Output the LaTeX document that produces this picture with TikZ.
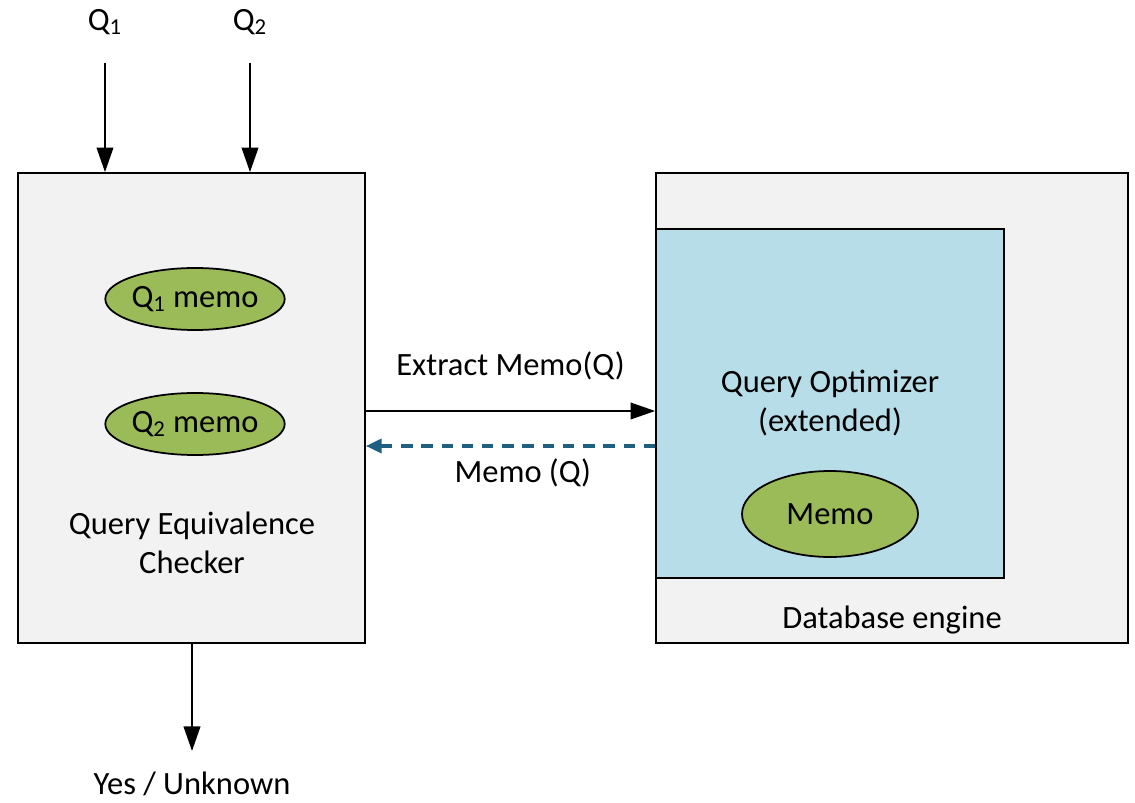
\documentclass[tikz,border=0pt]{standalone}
\usepackage{fontspec}
\setmainfont{Carlito}
\usepackage{xcolor}
\usetikzlibrary{arrows,shapes,arrows.meta}
\definecolor{boxgray}{HTML}{F2F2F2}
\definecolor{optblue}{HTML}{B7DDE8}
\definecolor{memogreen}{HTML}{9BBB59}
\definecolor{backblue}{RGB}{31,96,128}
\tikzstyle{block}=[rectangle,draw=black,fill=boxgray,line width=1pt]
\tikzstyle{memo}=[ellipse,draw=black,fill=memogreen,line width=1pt,inner sep=0pt]
\tikzstyle{lbl}=[font=\fontsize{18.5}{21.5}\selectfont]
\tikzstyle{flow}=[-{Triangle[length=14pt,width=9.5pt]},line width=1pt]

\begin{document}
\begin{tikzpicture}[x=0.02cm,y=-0.02cm]
        \useasboundingbox (0,0) rectangle (1135,803);
        \node at (191.5,408) [block,minimum width=347*0.02cm,minimum height=470*0.02cm] (qec) {};
        \node at (892,408) [block,minimum width=472*0.02cm,minimum height=470*0.02cm] (dbe) {};
        \node at (830,403.5) [rectangle,draw=black,fill=optblue,line width=1pt,minimum width=348*0.02cm,minimum height=349*0.02cm] (qo) {};

        \node at (195,299) [memo,lbl,minimum width=173*0.02cm,minimum height=62*0.02cm] (m1) {Q\textsubscript{1} memo};
        \node at (195,424) [memo,lbl,minimum width=173*0.02cm,minimum height=62*0.02cm] (m2) {Q\textsubscript{2} memo};
        \node at (830,514) [memo,lbl,minimum width=176*0.02cm,minimum height=86*0.02cm] (m) {Memo};

        \node at (192,543) [lbl,align=center] (qectxt) {Query Equivalence\\[1pt]Checker};
        \node at (830,403) [lbl,align=center] (qotxt) {Query Optimizer\\[1pt](extended)};
        \node at (892,620) [lbl] (dbetxt) {Database engine};

        \node at (105,22) [lbl] (q1) {Q\textsubscript{1}};
        \node at (250,22) [lbl] (q2) {Q\textsubscript{2}};
        \node at (192,784) [lbl] (ans) {Yes / Unknown};
        \coordinate (q1s) at (105,63);
        \coordinate (q2s) at (250,63);
        \coordinate (anse) at (192,751);

        \draw [flow] (q1s) -- (q1s |- qec.north);
        \draw [flow] (q2s) -- (q2s |- qec.north);
        \draw [flow] (qec.south -| anse) -- (anse);
        \draw [flow] (qec.east |- 0,411) -- node[above=14pt,lbl] (ext) {Extract Memo(Q)} (qo.west |- 0,411);
        \draw [-{Triangle[length=9pt,width=8pt]},backblue,line width=2pt,dash pattern=on 6.5pt off 5pt] (qo.west |- 0,446) -- node[below=3pt,lbl,text=black,xshift=7pt] (ret) {Memo (Q)} (qec.east |- 0,446);
\end{tikzpicture}
\end{document}
